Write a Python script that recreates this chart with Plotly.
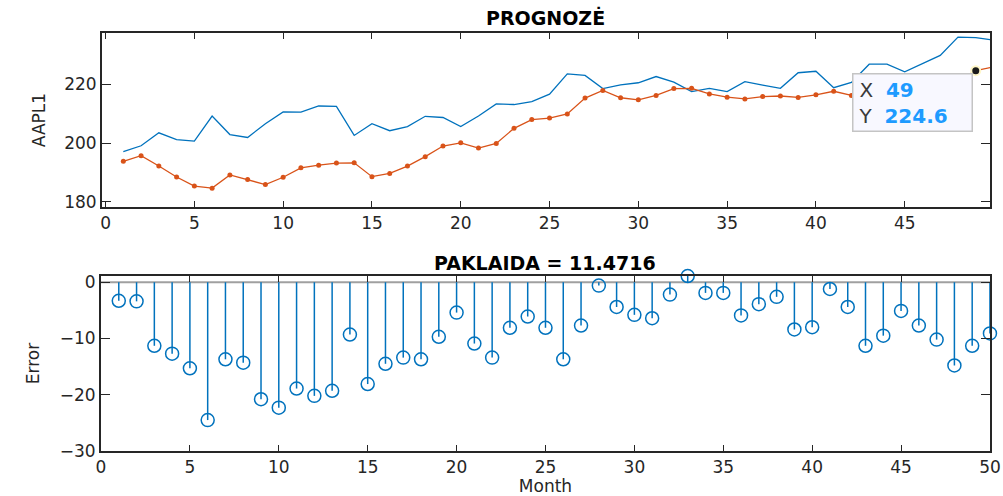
import plotly.graph_objects as go

months = list(range(1, 51))

actual = [197.1, 199.1, 203.5, 201.2, 200.7, 209.2, 202.9, 201.9, 206.6, 210.6,
          210.5, 212.6, 212.5, 202.6, 206.6, 204.2, 205.6, 209.1, 208.7, 205.6,
          209.2, 213.3, 213.1, 214.1, 216.6, 223.5, 223.0, 218.5, 219.8, 220.5,
          222.6, 220.7, 217.5, 218.6, 217.5, 220.9, 219.7, 218.6, 223.9, 224.4,
          218.8, 220.6, 226.8, 226.8, 224.2, 227.0, 229.8, 236.0, 235.8, 235.0]

forecast = [193.8, 195.7, 192.2, 188.5, 185.4, 184.7, 189.2, 187.6, 185.9, 188.4,
            191.6, 192.5, 193.2, 193.3, 188.6, 189.7, 192.2, 195.4, 199.0, 200.1,
            198.3, 199.9, 205.0, 208.0, 208.5, 209.9, 215.3, 217.9, 215.4, 214.7,
            216.2, 218.5, 218.6, 216.7, 215.6, 215.0, 215.8, 216.0, 215.5, 216.4,
            217.6, 216.2, 215.5, 217.3, 219.1, 219.3, 219.6, 221.2, 224.6, 225.9]

errors = [-3.3, -3.4, -11.3, -12.7, -15.3, -24.5, -13.7, -14.3, -20.8, -22.3,
          -18.9, -20.2, -19.3, -9.3, -18.1, -14.5, -13.4, -13.7, -9.7, -5.4,
          -10.9, -13.4, -8.1, -6.1, -8.1, -13.7, -7.7, -0.6, -4.4, -5.8,
          -6.4, -2.2, 1.1, -1.9, -1.9, -5.9, -3.9, -2.6, -8.4, -8.0,
          -1.2, -4.4, -11.3, -9.5, -5.1, -7.7, -10.2, -14.8, -11.3, -9.1]

top_title = "PROGNOZĖ"
bottom_title = "PAKLAIDA = 11.4716"
tip_x = 49
tip_y = 224.6

BLUE = "#0072BD"
ORANGE = "#D95319"
AX = "#262626"
FONT = "DejaVu Sans"

fig = go.Figure()

# top: actual and forecast
fig.add_trace(go.Scatter(x=months, y=actual, mode="lines",
                         line=dict(color=BLUE, width=1.3),
                         xaxis="x", yaxis="y", showlegend=False))
fig.add_trace(go.Scatter(x=months, y=forecast, mode="lines+markers",
                         line=dict(color=ORANGE, width=1.3),
                         marker=dict(color=ORANGE, size=5),
                         xaxis="x", yaxis="y", showlegend=False))
fig.add_trace(go.Scatter(x=[tip_x], y=[tip_y], mode="markers",
                         marker=dict(color="#1a1a1a", size=9,
                                     line=dict(color="#FFF7C8", width=2)),
                         xaxis="x", yaxis="y", showlegend=False, cliponaxis=False))

# bottom: stems
sx, sy = [], []
for m, e in zip(months, errors):
    sx += [m, m, None]
    sy += [0, e, None]
fig.add_trace(go.Scatter(x=sx, y=sy, mode="lines",
                         line=dict(color=BLUE, width=1.5),
                         xaxis="x2", yaxis="y2", showlegend=False))
fig.add_trace(go.Scatter(x=months, y=errors, mode="markers",
                         marker=dict(symbol="circle-open", size=13, color=BLUE,
                                     line=dict(color=BLUE, width=1.5)),
                         xaxis="x2", yaxis="y2", showlegend=False, cliponaxis=False))

tickfont = dict(family=FONT, size=17, color=AX)
axis_common = dict(showline=True, linecolor=AX, linewidth=2, mirror="ticks",
                   ticks="inside", tickcolor=AX, tickwidth=1.3, automargin=False,
                   showgrid=False, zeroline=False, tickfont=tickfont)

fig.update_layout(
    width=1003, height=496,
    margin=dict(l=0, r=0, t=0, b=0),
    paper_bgcolor="white", plot_bgcolor="white",
    xaxis=dict(domain=[0.1017, 0.987], range=[-0.2, 49.8], tickmode="array",
               tickvals=list(range(0, 50, 5)), ticklen=6, anchor="y", **axis_common),
    yaxis=dict(domain=[0.5827, 0.9335], range=[178.3, 237.4], tickmode="array",
               tickvals=[180, 200, 220], ticklen=9, anchor="x",
               title=dict(text="AAPL1", font=dict(family=FONT, size=17, color=AX), standoff=14),
               **axis_common),
    xaxis2=dict(domain=[0.1007, 0.987], range=[0, 50], tickmode="array",
                tickvals=list(range(0, 51, 5)), ticklen=6, anchor="y2",
                title=dict(text="Month", font=dict(family=FONT, size=17, color=AX), standoff=8),
                **axis_common),
    yaxis2=dict(domain=[0.0907, 0.4435], range=[-30, 1.1], tickmode="array",
                tickvals=[-30, -20, -10, 0], ticklen=9, anchor="x2",
                title=dict(text="Error", font=dict(family=FONT, size=17, color=AX), standoff=16),
                **axis_common),
    shapes=[dict(type="line", xref="x2 domain", yref="y2", x0=0, x1=1, y0=0, y1=0,
                 line=dict(color="#A0A0A0", width=2), layer="below")],
    annotations=[
        dict(text="<b>" + top_title + "</b>", x=0.5435, y=1 - 18 / 496, xref="paper", yref="paper",
             showarrow=False, font=dict(family=FONT, size=19, color="black"),
             xanchor="center", yanchor="middle"),
        dict(text="<b>" + bottom_title + "</b>", x=0.5435, y=1 - 263 / 496, xref="paper", yref="paper",
             showarrow=False, font=dict(family=FONT, size=19, color="black"),
             xanchor="center", yanchor="middle"),
        dict(text=("<span style='color:#3a3a3a'>X</span>  <b><span style='color:#1E9BFF'>%d</span></b><br>"
                   "<span style='color:#3a3a3a'>Y</span>  <b><span style='color:#1E9BFF'>%.1f</span></b>")
                  % (tip_x, tip_y),
             x=tip_x, y=tip_y, xref="x", yref="y", showarrow=False,
             xanchor="right", yanchor="top", xshift=-3, yshift=-2,
             align="left", width=108, height=46, borderpad=5, borderwidth=1.5,
             bordercolor="#C4C4C4", bgcolor="#F8F8FF",
             font=dict(family=FONT, size=20, color="#3a3a3a")),
    ],
)

fig.write_html("out.html", config={"displayModeBar": False},
               post_script="document.body.style.margin='0';document.body.style.padding='0';")
